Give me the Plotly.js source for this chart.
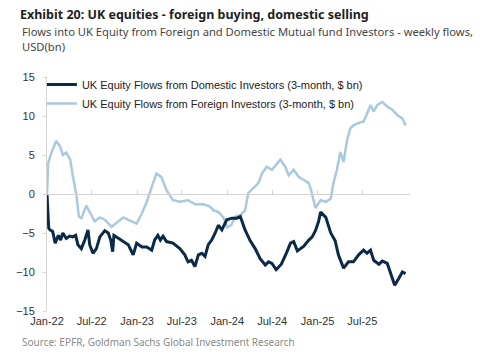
<!DOCTYPE html>
<html>
<head>
<meta charset="utf-8">
<script src="https://cdn.plot.ly/plotly-3.0.1.min.js"></script>
<style>html,body{margin:0;padding:0;background:#fff;}#chart{width:500px;height:354px;}</style>
</head>
<body>
<div id="chart"></div>
<script>
// Domestic investors (3-month, $ bn)
const domesticDates = ["2022-01-01","2022-01-08","2022-01-13","2022-01-24","2022-02-03","2022-02-16","2022-02-25","2022-03-06","2022-03-20","2022-04-03","2022-04-16","2022-04-27","2022-05-06","2022-05-20","2022-06-03","2022-06-16","2022-06-23","2022-07-06","2022-07-20","2022-08-03","2022-08-23","2022-09-06","2022-09-16","2022-09-24","2022-09-29","2022-10-16","2022-11-06","2022-11-26","2022-12-16","2022-12-30","2023-01-20","2023-02-09","2023-03-01","2023-03-13","2023-03-26","2023-04-05","2023-04-16","2023-04-30","2023-05-26","2023-06-23","2023-07-13","2023-07-26","2023-08-09","2023-08-23","2023-09-06","2023-09-20","2023-10-03","2023-10-16","2023-10-30","2023-11-13","2023-11-26","2023-12-10","2023-12-30","2024-01-20","2024-02-09","2024-02-23","2024-03-13","2024-04-03","2024-04-23","2024-05-13","2024-06-03","2024-06-16","2024-06-30","2024-07-17","2024-08-07","2024-08-27","2024-09-13","2024-09-26","2024-10-11","2024-11-06","2024-11-26","2024-12-10","2024-12-23","2025-01-05","2025-01-13","2025-02-03","2025-02-23","2025-03-13","2025-03-26","2025-04-16","2025-05-06","2025-05-26","2025-06-16","2025-07-06","2025-07-20","2025-08-03","2025-08-16","2025-09-06","2025-09-20","2025-10-10","2025-10-23","2025-11-09","2025-11-26","2025-12-10","2025-12-23"];
const domesticValues = [0,-4.4,-4.6,-4.8,-6.3,-5.3,-5.9,-5.0,-5.7,-5.4,-5.5,-5.3,-6.5,-7.0,-5.9,-4.6,-6.5,-7.6,-7.0,-5.5,-4.7,-5.0,-5.9,-7.4,-5.3,-5.7,-6.1,-6.5,-7.8,-6.3,-6.8,-6.8,-7.2,-5.9,-5.3,-5.9,-5.4,-6.1,-6.3,-7.0,-7.8,-8.7,-8.5,-9.3,-7.8,-7.6,-8.0,-6.5,-5.9,-5.0,-4.0,-4.6,-3.3,-3.1,-3.1,-2.9,-4.6,-6.0,-7.0,-8.3,-9.1,-8.7,-8.9,-9.7,-9.0,-7.6,-6.3,-6.1,-7.3,-6.7,-5.9,-5.5,-4.7,-3.5,-2.3,-3.0,-5.0,-6.0,-7.8,-9.5,-8.7,-8.7,-7.8,-7.2,-7.6,-7.2,-8.5,-9.0,-8.6,-8.9,-10.0,-11.7,-10.8,-10.0,-10.2];

// Foreign investors (3-month, $ bn)
const foreignDates = ["2022-01-01","2022-01-06","2022-01-20","2022-02-07","2022-02-23","2022-03-06","2022-03-20","2022-04-05","2022-04-16","2022-04-30","2022-05-10","2022-05-20","2022-06-09","2022-06-30","2022-07-13","2022-08-03","2022-08-23","2022-09-20","2022-10-10","2022-11-06","2022-12-03","2022-12-30","2023-01-20","2023-02-09","2023-03-01","2023-03-20","2023-04-09","2023-04-30","2023-05-26","2023-06-23","2023-07-26","2023-08-23","2023-09-26","2023-10-23","2023-11-06","2023-11-26","2023-12-16","2024-01-01","2024-01-17","2024-02-03","2024-02-23","2024-03-13","2024-03-26","2024-04-16","2024-05-06","2024-05-20","2024-06-09","2024-06-30","2024-07-20","2024-08-03","2024-08-23","2024-09-06","2024-09-26","2024-10-16","2024-11-06","2024-11-26","2024-12-07","2024-12-23","2025-01-13","2025-02-03","2025-02-23","2025-03-06","2025-03-20","2025-04-03","2025-04-16","2025-04-30","2025-05-13","2025-05-26","2025-06-16","2025-07-06","2025-07-20","2025-08-03","2025-08-16","2025-08-30","2025-09-20","2025-10-10","2025-10-30","2025-11-20","2025-12-10","2025-12-23"];
const foreignValues = [0,4.0,5.4,6.8,6.1,5.0,5.3,4.4,2.2,-0.1,-2.9,-3.1,-1.5,-2.7,-3.5,-3.0,-3.3,-4.2,-3.7,-3.0,-3.4,-3.8,-2.5,-1.0,0.9,2.6,2.2,0.5,-0.8,-1.0,-0.8,-1.3,-1.3,-1.6,-2.1,-2.3,-3.0,-4.3,-4.0,-2.9,-2.7,-2.1,0.1,0.7,1.4,2.6,3.5,3.1,3.9,4.4,3.5,2.4,3.1,2.2,1.8,1.4,0.3,-1.8,-0.8,-1.0,-0.6,1.4,3.1,5.4,4.1,6.9,8.4,8.8,9.1,9.3,10.3,11.4,10.6,11.4,11.8,11.2,10.8,10.1,9.7,8.8];

const seriesNames = ["UK Equity Flows from Domestic Investors (3-month, $ bn)", "UK Equity Flows from Foreign Investors (3-month, $ bn)"];
const titleText = "Exhibit 20: UK equities - foreign buying, domestic selling";
const subtitleText = "Flows into UK Equity from Foreign and Domestic Mutual fund Investors - weekly flows,<br>USD(bn)";
const sourceText = "Source: EPFR, Goldman Sachs Global Investment Research";
const yTicks = [-15, -10, -5, 0, 5, 10, 15];
const xTickDates = ["2022-01-01","2022-07-01","2023-01-01","2023-07-01","2024-01-01","2024-07-01","2025-01-01","2025-07-01"];
const xTickLabels = ["Jan-22","Jul-22","Jan-23","Jul-23","Jan-24","Jul-24","Jan-25","Jul-25"];
const xRange = ['2022-01-01', '2026-01-10'];

const traces = [
  {x: foreignDates, y: foreignValues, type: 'scatter', mode: 'lines', name: seriesNames[1], legendrank: 2,
   line: {color: '#a9c9df', width: 2.5}},
  {x: foreignDates, y: foreignValues, xaxis: 'x2', type: 'scatter', mode: 'lines', showlegend: false,
   hoverinfo: 'skip', line: {color: 'rgba(0,0,0,0)', width: 0}},
  {x: domesticDates, y: domesticValues, type: 'scatter', mode: 'lines', name: seriesNames[0], legendrank: 1,
   line: {color: '#0b2a48', width: 3}}
];

const axisFont = {family: 'Liberation Sans, Arial, sans-serif', size: 11, color: '#333'};
const layout = {
  width: 500, height: 354,
  margin: {l: 47, r: 90, t: 77, b: 43},
  paper_bgcolor: '#fff', plot_bgcolor: '#fff',
  showlegend: true,
  title: {text: '<b>' + titleText + '</b>', x: 0.04, xanchor: 'left', y: 0.958, yanchor: 'middle',
          font: {family: 'Noto Sans, sans-serif', size: 12.5, color: '#222'}},
  xaxis: {type: 'date', range: xRange, tickmode: 'array', tickvals: xTickDates, ticktext: xTickLabels,
          showgrid: false, zeroline: false, showline: false, ticks: '',
          tickfont: axisFont, ticklabelstandoff: 2},
  xaxis2: {type: 'date', overlaying: 'x', range: xRange, tickmode: 'array', tickvals: xTickDates,
           anchor: 'free', position: 0.5, side: 'bottom', showline: true, linecolor: '#d4d4d4', linewidth: 1,
           ticks: 'inside', ticklen: 4, tickcolor: '#d4d4d4', showticklabels: false, showgrid: false, zeroline: false},
  yaxis: {range: [-15, 15], tickvals: yTicks, showgrid: false, zeroline: false, showline: true,
          linecolor: '#d4d4d4', linewidth: 1, ticks: 'outside', ticklen: 3, tickcolor: '#d4d4d4',
          tickfont: axisFont, ticklabelstandoff: 6},
  legend: {x: -0.014, xanchor: 'left', y: 1.03, yanchor: 'top', bgcolor: 'rgba(0,0,0,0)',
           font: {family: 'Liberation Sans, Arial, sans-serif', size: 11, color: '#222'}, tracegroupgap: 0},
  annotations: [
    {text: subtitleText, xref: 'paper', yref: 'paper', x: -0.0744, y: 1.235, xanchor: 'left', yanchor: 'top',
     align: 'left', showarrow: false, font: {family: 'Noto Sans, sans-serif', size: 11.2, color: '#444'}},
    {text: sourceText, xref: 'paper', yref: 'paper', x: -0.0744, y: -0.1325, xanchor: 'left', yanchor: 'middle',
     showarrow: false, font: {family: 'Noto Sans, sans-serif', size: 10, color: '#8a8a8a'}}
  ]
};
Plotly.newPlot('chart', traces, layout, {staticPlot: true, displayModeBar: false});
</script>
</body>
</html>
